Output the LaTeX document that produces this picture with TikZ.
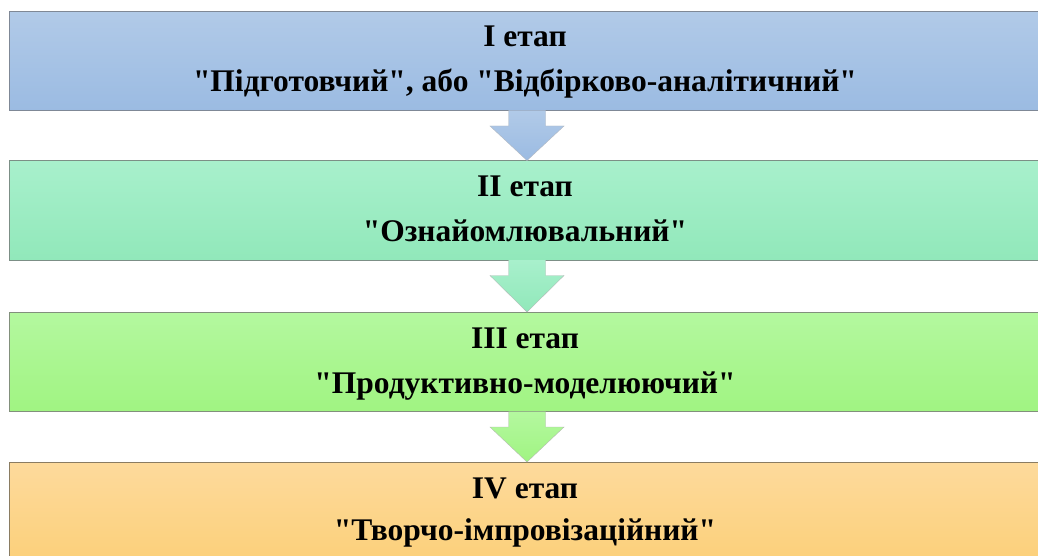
\documentclass[tikz,border=0pt]{standalone}
\usepackage{fontspec}
\setmainfont{Liberation Serif}[Ligatures=TeXOff]
\usetikzlibrary{calc}
\definecolor{b1t}{HTML}{B1CAE8}\definecolor{b1b}{HTML}{9BBBE2}\definecolor{b1d}{HTML}{7F8896}
\definecolor{b2t}{HTML}{A8F0CC}\definecolor{b2b}{HTML}{91E8BA}\definecolor{b2d}{HTML}{7C8F86}
\definecolor{b3t}{HTML}{B4F89F}\definecolor{b3b}{HTML}{A0F482}\definecolor{b3d}{HTML}{82907C}
\definecolor{b4t}{HTML}{FDDA9C}\definecolor{b4b}{HTML}{FCD07A}\definecolor{b4d}{HTML}{8A7C62}
\tikzset{
  stagebox/.style={draw=#1d, line width=1pt, top color=#1t, bottom color=#1b,
    minimum width=1031pt, minimum height=99pt, inner sep=0pt, anchor=north west},
  stagetext/.style={anchor=base, font=\bfseries\fontsize{31.5}{36}\selectfont, inner sep=0pt},
  blockarrow/.style={draw=#1d!60, line width=0.4pt, top color=#1t, bottom color=#1b}
}
\begin{document}
\begin{tikzpicture}[x=1pt,y=1pt]
\useasboundingbox (0,0) rectangle (1038,-556);
\clip (0,0) rectangle (1038,-556);
\fill[white] (0,0) rectangle (1038,-556);
\node[stagebox=b1] (b1) at (9,-11) {};
\node[stagebox=b2] (b2) at (9,-160.5) {};
\node[stagebox=b3] (b3) at (9,-312) {};
\node[stagebox=b4] (b4) at (9,-462) {};
% block arrows
\foreach \a/\b/\c in {b1/b2/b1, b2/b3/b2, b3/b4/b3}{
  \coordinate (s) at ($(\a.south)+(2,0)$);
  \coordinate (e) at ($(\b.north)+(2,0)$);
  \path[blockarrow=\c] ($(s)+(-18.5,0.5)$) -- ($(s)+(-18.5,-15)$) -- ($(s)+(-37,-15)$)
     -- (e) -- ($(s)+(37,-15)$) -- ($(s)+(18.5,-15)$) -- ($(s)+(18.5,0.5)$);
}
\node[stagetext] (t1a) at ($(b1.north)+(0,-36)$) {I етап};
\node[stagetext] (t1b) at ($(b1.north)+(0,-81)$) {"Підготовчий", або "Відбірково-аналітичний"};
\node[stagetext] (t2a) at ($(b2.north)+(0,-36)$) {II етап};
\node[stagetext] (t2b) at ($(b2.north)+(0,-81)$) {"Ознайомлювальний"};
\node[stagetext] (t3a) at ($(b3.north)+(0,-36)$) {III етап};
\node[stagetext] (t3b) at ($(b3.north)+(0,-81)$) {"Продуктивно-моделюючий"};
\node[stagetext] (t4a) at ($(b4.north)+(0,-36)$) {IV етап};
\node[stagetext] (t4b) at ($(b4.north)+(0,-78)$) {"Творчо-імпровізаційний"};
\end{tikzpicture}
\end{document}
